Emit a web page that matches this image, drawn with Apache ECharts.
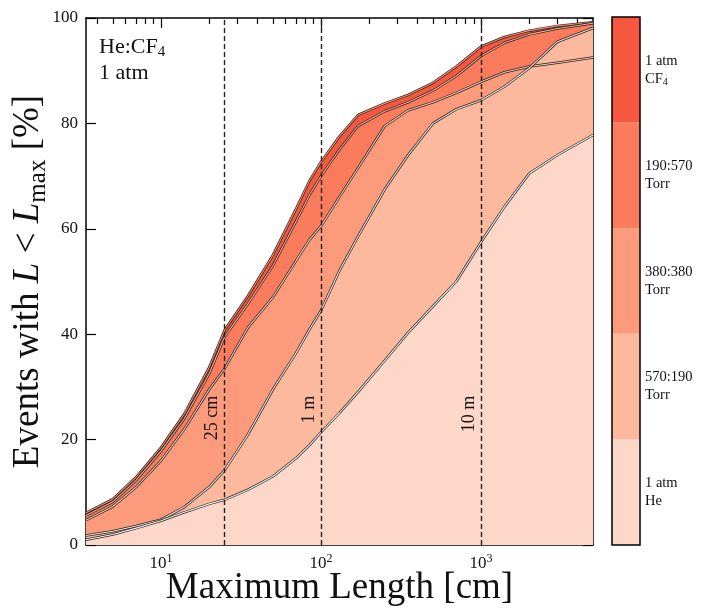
<!DOCTYPE html>
<html><head><meta charset="utf-8">
<script src="https://cdn.jsdelivr.net/npm/echarts@6/dist/echarts.min.js"></script>
<style>html,body{margin:0;padding:0;background:#fff}#c{width:701px;height:608px}</style>
</head><body><div id="c"></div>
<script>
// ---- data ----
const lengths = [3.4, 5, 7, 10, 14, 20, 25, 35, 50, 70, 85, 100, 130, 170, 250, 350, 500, 700, 1000, 1400, 2000, 3000, 5000];
const cf4Values    = [6.1, 8.7, 12.9, 18.5, 24.9, 33.7, 40.8, 47.3, 55.0, 63.9, 69.2, 72.7, 77.5, 81.6, 83.8, 85.4, 87.7, 90.8, 94.6, 96.4, 97.6, 98.5, 99.2];
const mix190Values = [5.6, 8.2, 12.3, 17.8, 24.0, 32.5, 39.5, 45.8, 53.0, 61.5, 66.5, 70.0, 75.0, 79.5, 82.3, 84.0, 86.2, 89.0, 92.8, 95.3, 96.9, 98.0, 99.0];
const mix380Values = [4.7, 7.3, 11.0, 16.0, 22.0, 29.5, 33.5, 41.3, 47.0, 54.0, 58.0, 60.5, 66.0, 71.5, 79.5, 82.5, 84.0, 85.8, 87.9, 89.7, 90.8, 91.5, 92.5];
const mix570Values = [1.8, 2.6, 3.6, 4.8, 7.2, 11.0, 14.2, 21.0, 29.5, 36.5, 41.0, 44.5, 52.0, 58.5, 67.5, 74.0, 80.0, 82.7, 84.4, 87.0, 90.5, 95.5, 98.1];
const heValues     = [1.0, 2.0, 3.2, 4.6, 6.2, 7.8, 8.6, 10.5, 13.0, 16.5, 19.0, 21.4, 25.0, 29.0, 35.0, 40.3, 45.3, 50.0, 57.5, 64.2, 70.5, 74.0, 77.8];

const mixLabels = ['1 atm\nHe', '570:190\nTorr', '380:380\nTorr', '190:570\nTorr', '1 atm\nCF{s|4}'];
const fillColors = ['#fdd8c9', '#fcb99e', '#fc9b7c', '#fb7c5c', '#f5583e'];
const coreColors = ['#fff6f2', '#fde6dc', '#fdcab6', '#fcab90', '#f98c70'];
const markerLengths = [25, 100, 1000];
const markerLabels = ['25 cm', '1 m', '10 m'];
const xMajorTicks = [10, 100, 1000];
const xMinorTicks = [4, 5, 6, 7, 8, 9, 20, 30, 40, 50, 60, 70, 80, 90, 200, 300, 400, 500, 600, 700, 800, 900, 2000, 3000, 4000];
const yTicks = [0, 20, 40, 60, 80, 100];

// ---- chart ----
const FONT = 'Liberation Serif';
const chart = echarts.init(document.getElementById('c'), null, {renderer: 'canvas'});
const curves = [heValues, mix570Values, mix380Values, mix190Values, cf4Values];
const pairs = v => lengths.map((x, i) => [x, v[i]]);

const series = [];
for (let k = curves.length - 1; k >= 0; k--) {
  const d = pairs(curves[k]);
  series.push({type: 'line', data: d, xAxisIndex: 0, yAxisIndex: 0, symbol: 'none', smooth: false,
    lineStyle: {width: 0}, areaStyle: {color: fillColors[k], opacity: 1, origin: 'start'}, silent: true, z: 2});
  series.push({type: 'line', data: d, xAxisIndex: 0, yAxisIndex: 0, symbol: 'none',
    lineStyle: {color: '#222', width: 2.5}, silent: true, z: 2});
  series.push({type: 'line', data: d, xAxisIndex: 0, yAxisIndex: 0, symbol: 'none',
    lineStyle: {color: coreColors[k], width: 1.1}, silent: true, z: 2});
}
series.push({type: 'line', data: [], xAxisIndex: 0, yAxisIndex: 0, z: 5,
  markLine: {silent: true, symbol: 'none', label: {show: false},
    lineStyle: {color: '#222', width: 1.4, type: [5, 3]},
    data: markerLengths.map(v => ({xAxis: v}))}});
series.push({type: 'bar', xAxisIndex: 4, yAxisIndex: 2, barWidth: '100%', barCategoryGap: 0, silent: true,
  data: fillColors.map(c => ({value: 1, itemStyle: {color: c}}))});

const tickCommon = {inside: true, lineStyle: {color: '#000', width: 1.2}};
const xBase = {type: 'log', logBase: 10, min: 3.4, max: 5000, gridIndex: 0, splitLine: {show: false}};
chart.setOption({
  animation: false,
  grid: [
    {left: 86, top: 18, width: 507, height: 527, show: false, containLabel: false, outerBoundsMode: 'none'},
    {left: 612, top: 17, width: 28, height: 528, show: true, borderColor: '#000', borderWidth: 1.5, z: 5,
      containLabel: false, outerBoundsMode: 'none'}
  ],
  xAxis: [
    Object.assign({}, xBase, {position: 'bottom',
      axisLine: {lineStyle: {color: '#000', width: 1.5}},
      axisTick: Object.assign({length: 10, customValues: xMajorTicks}, tickCommon),
      axisLabel: {customValues: xMajorTicks, margin: 8, color: '#111', fontFamily: FONT, fontSize: 17,
        formatter: v => '10{sup|' + Math.round(Math.log10(v)) + '}',
        rich: {sup: {fontSize: 12, verticalAlign: 'top', fontFamily: FONT, color: '#111'}},
        lineHeight: 22},
      name: 'Maximum Length [cm]', nameLocation: 'middle', nameGap: 25, nameMoveOverlap: false,
      nameTextStyle: {fontFamily: FONT, fontSize: 37, color: '#111', verticalAlign: 'top'}}),
    Object.assign({}, xBase, {position: 'bottom', axisLine: {show: false},
      axisTick: Object.assign({length: 6, customValues: xMinorTicks}, tickCommon), axisLabel: {show: false}}),
    Object.assign({}, xBase, {position: 'top',
      axisLine: {lineStyle: {color: '#000', width: 1.5}},
      axisTick: Object.assign({length: 10, customValues: xMajorTicks}, tickCommon), axisLabel: {show: false}}),
    Object.assign({}, xBase, {position: 'top', axisLine: {show: false},
      axisTick: Object.assign({length: 6, customValues: xMinorTicks}, tickCommon), axisLabel: {show: false}}),
    {type: 'value', gridIndex: 1, min: 0, max: 1, show: false}
  ],
  yAxis: [
    {type: 'value', gridIndex: 0, min: 0, max: 100, interval: 20, position: 'left',
      splitLine: {show: false},
      axisLine: {show: true, lineStyle: {color: '#000', width: 1.5}},
      axisTick: Object.assign({length: 10}, tickCommon),
      axisLabel: {color: '#111', fontFamily: FONT, fontSize: 17, margin: 8},
      name: 'Events with {i|L} < {i|L}{s|max} [%]', nameLocation: 'middle', nameGap: 35, nameRotate: 90,
      nameMoveOverlap: false,
      nameTextStyle: {fontFamily: FONT, fontSize: 37, color: '#111', lineHeight: 46,
        rich: {i: {fontStyle: 'italic', fontFamily: FONT, fontSize: 37, color: '#111', lineHeight: 46},
               s: {fontFamily: FONT, fontSize: 25, color: '#111', verticalAlign: 'bottom', lineHeight: 46}}}},
    {type: 'value', gridIndex: 0, min: 0, max: 100, interval: 20, position: 'right',
      splitLine: {show: false},
      axisLine: {show: true, lineStyle: {color: '#000', width: 1.5}},
      axisTick: Object.assign({length: 10}, tickCommon), axisLabel: {show: false}},
    {type: 'category', gridIndex: 1, data: mixLabels, position: 'right',
      axisLine: {show: false}, axisTick: {show: false}, splitLine: {show: false},
      axisLabel: {color: '#111', fontFamily: FONT, fontSize: 14.5, lineHeight: 18, margin: 5, align: 'left',
        rich: {s: {fontSize: 10, verticalAlign: 'bottom', fontFamily: FONT, color: '#111', lineHeight: 18}}}}
  ],
  series: series
});

// text annotations positioned through the axes
const graphics = [];
markerLengths.forEach((v, i) => {
  const p = chart.convertToPixel({xAxisIndex: 0, yAxisIndex: 0}, [v, 28.3]);
  graphics.push({type: 'text', x: p[0] - 3, y: p[1], rotation: Math.PI / 2, z: 10,
    style: {text: markerLabels[i], fontFamily: FONT, fontSize: 18, fill: '#111', align: 'right', verticalAlign: 'bottom'}});
});
const tl = chart.convertToPixel({xAxisIndex: 0, yAxisIndex: 0}, [4.1, 97]);
graphics.push({type: 'text', x: tl[0], y: tl[1], z: 10,
  style: {text: 'He:CF{s|4}\n1 atm', fontFamily: FONT, fontSize: 22, lineHeight: 26, fill: '#111',
    rich: {s: {fontFamily: FONT, fontSize: 15, verticalAlign: 'bottom', lineHeight: 26, fill: '#111'}}}});
chart.setOption({graphic: graphics});
</script>
</body></html>
